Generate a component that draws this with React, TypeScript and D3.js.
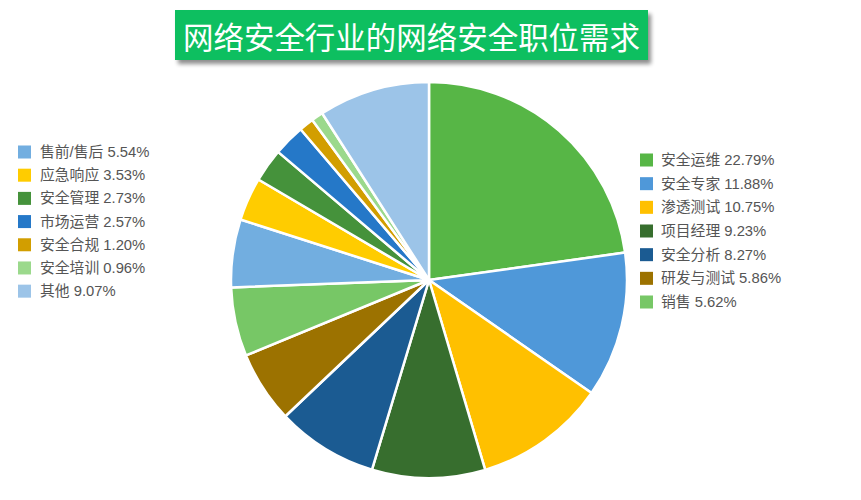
import * as d3 from 'd3';
import React from 'react';

const categories = [
  '安全运维', '安全专家', '渗透测试', '项目经理', '安全分析', '研发与测试', '销售',
  '售前/售后', '应急响应', '安全管理', '市场运营', '安全合规', '安全培训', '其他',
];
const shares = [22.79, 11.88, 10.75, 9.23, 8.27, 5.86, 5.62, 5.54, 3.53, 2.73, 2.57, 1.2, 0.96, 9.07];
const colors = [
  '#57b646', '#4f98d9', '#ffc000', '#376e2e', '#1b5b92', '#9c7200', '#77c766',
  '#72aee0', '#ffcc00', '#45923b', '#2578c8', '#d29e00', '#9bd98c', '#9cc4e8',
];
const title = '网络安全行业的网络安全职位需求';

const titleFont = '"Noto Sans CJK SC", "Noto Sans", sans-serif';
const legendFont = '"Liberation Sans", "Noto Sans CJK SC", sans-serif';

export default function App() {
  const width = 861;
  const height = 500;
  const cx = 429;
  const cy = 280;
  const radius = 198;

  const items = categories.map((name, i) => ({ name, value: shares[i], color: colors[i] }));
  const pie = d3.pie<{ name: string; value: number; color: string }>()
    .value((d) => d.value)
    .sort(null);
  const arcs = pie(items);
  const arc = d3.arc<d3.PieArcDatum<{ name: string; value: number; color: string }>>()
    .innerRadius(0)
    .outerRadius(radius);

  const rightItems = items.slice(0, 7);
  const leftItems = items.slice(7);
  const rowY = d3.scaleLinear().domain([0, 6]).range([0, 142]);

  return (
    <svg
      width={width}
      height={height}
      style={{ position: 'absolute', left: 0, top: 0, background: '#fff' }}
    >
      <defs>
        <filter id="shadow" x="-10%" y="-30%" width="120%" height="180%">
          <feGaussianBlur in="SourceAlpha" stdDeviation="2" />
          <feOffset dx="3" dy="4" result="blur" />
          <feComponentTransfer>
            <feFuncA type="linear" slope="0.45" />
          </feComponentTransfer>
          <feMerge>
            <feMergeNode />
            <feMergeNode in="SourceGraphic" />
          </feMerge>
        </filter>
      </defs>

      {/* title */}
      <rect x={175} y={10} width={473} height={50} fill="#10bf61" filter="url(#shadow)" />
      <text
        x={411.5}
        y={36}
        textAnchor="middle"
        dominantBaseline="central"
        fill="#fff"
        fontFamily={titleFont}
        fontSize={30.5}
        textLength={457}
        lengthAdjust="spacingAndGlyphs"
      >
        {title}
      </text>

      {/* pie */}
      <g transform={`translate(${cx},${cy})`}>
        {arcs.map((a, i) => (
          <path key={i} d={arc(a) || ''} fill={a.data.color} stroke="#fff" strokeWidth={2.5} strokeLinejoin="round" />
        ))}
      </g>

      {/* right legend */}
      <g transform="translate(640,160)">
        {rightItems.map((d, i) => (
          <g key={d.name} transform={`translate(0,${rowY(i)})`}>
            <rect x={0} y={-6.5} width={13} height={13} fill={d.color} />
            <text x={21} y={0} dominantBaseline="central" fontFamily={legendFont} fontSize={14.8} fill="#555">
              {`${d.name} ${d.value.toFixed(2)}%`}
            </text>
          </g>
        ))}
      </g>

      {/* left legend */}
      <g transform="translate(18,152)">
        {leftItems.map((d, i) => (
          <g key={d.name} transform={`translate(0,${rowY(i) * 0.98})`}>
            <rect x={0} y={-6.5} width={13} height={13} fill={d.color} />
            <text x={22} y={0} dominantBaseline="central" fontFamily={legendFont} fontSize={14.8} fill="#555">
              {`${d.name} ${d.value.toFixed(2)}%`}
            </text>
          </g>
        ))}
      </g>
    </svg>
  );
}
